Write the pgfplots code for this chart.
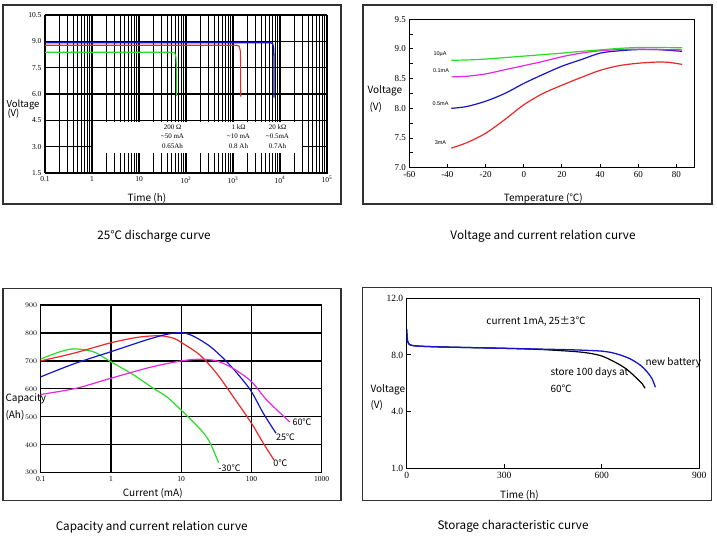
\documentclass[border=0pt]{standalone}
\usepackage{fontspec}
\setmainfont{Liberation Serif}
\newfontfamily\ys{Noto Sans CJK SC}
\newfontfamily\ar{Liberation Sans}
\usepackage{pgfplots}
\pgfplotsset{compat=1.18}
\definecolor{cgreen}{RGB}{40,220,40}
\definecolor{cred}{RGB}{235,40,40}
\definecolor{cblue}{RGB}{20,20,200}
\definecolor{cmag}{RGB}{230,40,230}
\definecolor{frm}{RGB}{50,50,50}
\newcommand{\lab}{\ys\fontsize{10}{12}\selectfont}
\newcommand{\capf}{\ys\fontsize{11.7}{13}\selectfont}
\begin{document}
\begin{tikzpicture}[x=1pt,y=1pt]
\path[use as bounding box] (0,0) rectangle (717,-542);
\fill[white] (0,0) rectangle (717,-542);
\draw[frm, line width=1.2pt] (3,-5) rectangle (341,-204);
\draw[frm, line width=1.2pt] (363,-5) rectangle (712,-204);
\draw[frm, line width=1.2pt] (3,-288.3) rectangle (341,-500.7);
\draw[frm, line width=1.2pt] (362.7,-287.3) rectangle (711.7,-500.7);

% ---------------- Panel 1
\begin{axis}[at={(45pt,-173pt)}, anchor=south west, scale only axis,
 width=282pt, height=158pt,
 xmode=log, xmin=0.1, xmax=1e5, ymin=1.5, ymax=10.5,
 xtick={0.1,1,10,100,1000,10000,100000},
 xticklabels={0.1,1,10,10\textsuperscript{2},10\textsuperscript{3},10\textsuperscript{4},10\textsuperscript{5}},
 ytick={1.5,3,4.5,6,7.5,9,10.5},
 yticklabels={1.5,3.0,4.5,6.0,7.5,9.0,10.5},
 grid=both, xminorgrids=true,
 major grid style={black, line width=1.2pt},
 minor grid style={black, line width=0.9pt},
 major tick length=0pt, minor tick length=0pt,
 axis line style={black, line width=1pt},
 ticklabel style={font=\fontsize{7.5}{8}\selectfont},
]
\fill[white] (axis cs:1.05,2.64) rectangle (axis cs:2.88e4,4.43);
\addplot[cgreen, line width=1.1pt] coordinates {(0.1,8.38) (50,8.38) (57,8.34) (61,8.15) (62.5,7.6) (63,5.88)};
\addplot[cred, line width=1.1pt] coordinates {(0.1,8.78) (1200,8.78) (1360,8.72) (1430,8.45) (1450,7.8) (1460,5.85)};
\addplot[cblue, line width=1.3pt] coordinates {(0.1,8.92) (6300,8.92) (7000,8.86) (7350,8.6) (7450,8.0) (7450,5.8)};
\end{axis}
\node[anchor=west, font=\ys\fontsize{9.5}{11}\selectfont] at (3,-105) {Voltage};
\node[anchor=west, font=\ys\fontsize{9.5}{11}\selectfont] at (4,-114) {(V)};
\node[font=\lab] at (147,-198) {Time (h)};
\node[align=center, font=\fontsize{7}{9.7}\selectfont] at (172.5,-136.5) {200 Ω\\\textasciitilde50 mA\\0.65Ah};
\node[align=center, font=\fontsize{7}{9.7}\selectfont] at (238.5,-136.5) {1 kΩ\\\textasciitilde10 mA\\0.8 Ah};
\node[align=center, font=\fontsize{7}{9.7}\selectfont] at (277.5,-136.5) {20 kΩ\\\textasciitilde0.5mA\\0.7Ah};
\node[font=\capf] at (154,-236) {25℃ discharge curve};

% ---------------- Panel 2
\begin{axis}[at={(409.3pt,-167.7pt)}, anchor=south west, scale only axis,
 width=284.7pt, height=148.4pt,
 xmin=-60, xmax=89.2, ymin=7, ymax=9.5,
 xtick={-60,-40,-20,0,20,40,60,80},
 xticklabels={-60,-40,-20,0,20,40,60,80},
 ytick={7,7.5,8,8.5,9,9.5},
 yticklabels={7.0,7.5,8.0,8.5,9.0,9.5},
 minor ytick={7.25,7.75,8.25,8.75,9.25},
 tick align=inside, major tick length=4pt, minor tick length=4pt,
 tick style={black, line width=1pt},
 xtick pos=lower, ytick pos=left,
 axis line style={black, line width=1pt},
 ticklabel style={font=\fontsize{9}{10}\selectfont},
]
\addplot[cred, line width=1.2pt, smooth] coordinates {(-38,7.33) (-30,7.42) (-20,7.58) (-10,7.81) (0,8.06) (10,8.25) (20,8.39) (30,8.52) (40,8.64) (50,8.72) (60,8.76) (70,8.78) (76,8.775) (83,8.74)};
\addplot[cblue, line width=1.2pt, smooth] coordinates {(-38,8.0) (-30,8.03) (-20,8.12) (-10,8.25) (0,8.42) (10,8.57) (20,8.71) (30,8.82) (40,8.93) (50,8.97) (60,8.99) (70,8.99) (83,8.96)};
\addplot[cmag, line width=1.2pt, smooth] coordinates {(-38,8.53) (-30,8.54) (-20,8.58) (-10,8.65) (0,8.72) (10,8.79) (20,8.87) (30,8.93) (40,8.97) (50,8.99) (60,8.995) (83,8.985)};
\addplot[cgreen, line width=1.2pt, smooth] coordinates {(-38,8.81) (-30,8.815) (-20,8.83) (-10,8.855) (0,8.88) (10,8.905) (20,8.93) (30,8.96) (40,8.985) (50,9.01) (60,9.025) (70,9.025) (83,9.02)};
\end{axis}
\node[font=\ar\fontsize{5.5}{6}\selectfont] at (440,-54.3) {10µA};
\node[font=\ar\fontsize{5.5}{6}\selectfont] at (441,-71) {0.1mA};
\node[font=\ar\fontsize{5.5}{6}\selectfont] at (440.5,-103.3) {0.5mA};
\node[font=\ar\fontsize{5.5}{6}\selectfont] at (440.5,-142.7) {3mA};
\node[anchor=west, font=\lab] at (364,-90.7) {Voltage};
\node[anchor=west, font=\lab] at (366,-107.7) {(V)};
\node[font=\lab] at (543.3,-198.3) {Temperature (℃)};
\node[font=\capf] at (543,-236) {Voltage and current relation curve};

% ---------------- Panel 3
\begin{axis}[at={(40.7pt,-472.7pt)}, anchor=south west, scale only axis,
 width=281pt, height=167.7pt,
 xmode=log, xmin=0.1, xmax=1000, ymin=300, ymax=900,
 xtick={0.1,1,10,100,1000},
 xticklabels={0.1,1,10,100,1000},
 ytick={300,400,500,600,700,800,900},
 grid=major,
 major grid style={black, line width=1.2pt},
 major tick length=0pt, minor tick length=0pt,
 axis line style={black, line width=1.2pt},
 ticklabel style={font=\fontsize{7.5}{8}\selectfont},
]
\addplot[cgreen, line width=1.2pt, smooth] coordinates {(0.1,707) (0.19,733) (0.3,743) (0.56,733) (1,697) (2.1,650) (4.0,602) (6.2,572) (10,524) (14.8,482) (21,441) (26,405) (34,336)};
\addplot[cred, line width=1.2pt, smooth] coordinates {(0.1,700) (0.3,728) (1,765) (2.5,785) (5,790) (7.8,781) (10,766) (18.5,721) (32,655) (55,572) (100,477) (148,405) (210,345)};
\addplot[cblue, line width=1.2pt, smooth] coordinates {(0.1,643) (0.3,690) (1,733) (3.2,775) (6.2,795) (10,801) (14.8,789) (26,751) (44.5,697) (69,643) (100,590) (148,512) (224,441)};
\addplot[cmag, line width=1.2pt, smooth] coordinates {(0.1,580) (0.32,602) (1,638) (3.6,677) (10,700) (18.5,706) (32,700) (55,673) (100,626) (165,560) (350,482)};
\end{axis}
\node[anchor=west, font=\lab] at (2,-398.5) {Capacity};
\node[anchor=west, font=\lab] at (2,-415) {(Ah)};
\node[font=\ys\fontsize{9}{10}\selectfont] at (302,-421.7) {60℃};
\node[font=\ys\fontsize{9}{10}\selectfont] at (285.5,-436.7) {25℃};
\node[font=\ys\fontsize{9}{10}\selectfont] at (280.3,-462.7) {0℃};
\node[font=\ys\fontsize{9}{10}\selectfont] at (229.5,-468.3) {-30℃};
\node[font=\lab] at (152.8,-493.3) {Current (mA)};
\node[font=\capf] at (151.7,-526.7) {Capacity and current relation curve};

% ---------------- Panel 4
\begin{axis}[at={(406.7pt,-468.3pt)}, anchor=south west, scale only axis,
 width=292.6pt, height=170pt,
 xmin=0, xmax=900, ymin=0, ymax=12,
 xtick={0,300,600,900},
 xticklabels={0,300,600,900},
 ytick={0,4,8,12},
 yticklabels={1.0,4.0,8.0,12.0},
 tick align=inside, major tick length=4pt,
 tick style={black, line width=1pt},
 xtick pos=lower, ytick pos=left,
 axis line style={black, line width=1pt},
 ticklabel style={font=\fontsize{9.5}{10}\selectfont},
]
\addplot[black, line width=1.2pt, smooth] coordinates {(0,9.8) (1,9.3) (3,8.95) (6,8.8) (10,8.72) (20,8.66) (40,8.62) (100,8.57) (200,8.52) (300,8.47) (400,8.4) (472,8.31) (523,8.23) (554,8.15) (575,8.07) (600,7.93) (616,7.78) (640,7.5) (657,7.29) (675,7.02) (688,6.77) (700,6.52) (713,6.24) (725,5.95) (733,5.65)};
\addplot[cblue, line width=1.3pt, smooth] coordinates {(0,9.8) (1,9.3) (3,8.95) (6,8.8) (10,8.72) (20,8.66) (40,8.62) (100,8.57) (200,8.52) (300,8.47) (400,8.42) (500,8.37) (560,8.32) (600,8.27) (630,8.17) (657,8.0) (688,7.72) (718,7.29) (739,6.82) (754,6.35) (765,5.72)};
\end{axis}
\node[font=\ys\fontsize{10}{12}\selectfont] at (536,-321.7) {current 1mA, 25±3℃};
\node[anchor=west, font=\lab] at (642,-362.7) {new battery};
\node[anchor=west, font=\lab] at (547,-372.3) {store 100 days at};
\node[anchor=west, font=\lab] at (547,-388.3) {60℃};
\node[anchor=west, font=\lab] at (367,-389.3) {Voltage};
\node[anchor=west, font=\lab] at (367,-405.7) {(V)};
\node[font=\lab] at (519.5,-495) {Time (h)};
\node[font=\capf] at (513,-526.7) {Storage characteristic curve};
\end{tikzpicture}
\end{document}
